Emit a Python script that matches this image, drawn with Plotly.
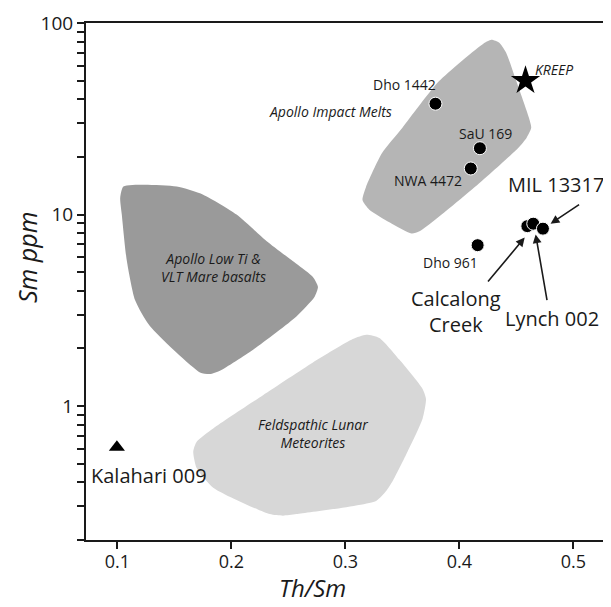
import math
import plotly.graph_objects as go

FONT = "Open Sans"
INK = "#1a1a1a"

# ---- data ----
sample_names = ["Dho 1442", "SaU 169", "NWA 4472", "Dho 961", "Calcalong Creek", "Lynch 002", "MIL 13317"]
sample_thsm = [0.379, 0.418, 0.410, 0.416, 0.4596, 0.4648, 0.4733]
sample_sm = [37.9, 22.2, 17.4, 6.92, 8.7, 8.96, 8.44]

kreep_thsm = [0.458]
kreep_sm = [50.0]

kalahari_thsm = [0.0995]
kalahari_sm = [0.61]

# field outlines (Th/Sm, Sm ppm)
impact_x = [0.428, 0.435, 0.441, 0.450, 0.461, 0.463, 0.459, 0.452, 0.411, 0.365, 0.358, 0.339, 0.321, 0.315, 0.318, 0.332, 0.350, 0.382, 0.421, 0.428]
impact_y = [81.7, 78.9, 70.0, 49.6, 32.0, 28.4, 25.2, 22.4, 13.5, 8.17, 7.97, 9.09, 10.6, 11.9, 13.9, 20.9, 28.4, 49.6, 78.0, 81.7]

mare_x = [0.1052, 0.1227, 0.152, 0.1752, 0.2045, 0.2307, 0.257, 0.2715, 0.2759, 0.273, 0.257, 0.219, 0.1899, 0.1811, 0.1724, 0.1286, 0.1155, 0.1082, 0.1038, 0.1024, 0.1052]
mare_y = [14.0, 14.3, 14.0, 12.7, 10.0, 7.28, 5.53, 4.72, 4.19, 3.72, 2.94, 1.97, 1.53, 1.47, 1.50, 2.61, 3.57, 5.75, 10.0, 12.2, 14.0]

feld_x = [0.3182, 0.3298, 0.3473, 0.3677, 0.3707, 0.3677, 0.3532, 0.3415, 0.3357, 0.3269, 0.257, 0.2452, 0.2336, 0.184, 0.1695, 0.1665, 0.1695, 0.184, 0.2277, 0.2715, 0.3065, 0.3182]
feld_y = [2.36, 2.27, 1.75, 1.23, 1.09, 0.86, 0.557, 0.406, 0.360, 0.320, 0.273, 0.268, 0.273, 0.375, 0.475, 0.579, 0.652, 0.764, 1.14, 1.69, 2.24, 2.36]

x_ticks = [0.1, 0.2, 0.3, 0.4, 0.5]
y_ticks = [1, 10, 100]
y_minor = [0.2, 0.3, 0.4, 0.5, 0.6, 0.7, 0.8, 0.9, 2, 3, 4, 5, 6, 7, 8, 9, 20, 30, 40, 50, 60, 70, 80, 90]

# labels: (text, x, y, size, italic, xanchor)
labels = [
    ("Dho 1442", 0.3517, 47.7, 14, False, "center"),
    ("Apollo Impact Melts", 0.3423, 34.4, 14, True, "right"),
    ("SaU 169", 0.4232, 26.6, 14, False, "center"),
    ("NWA 4472", 0.3727, 15.0, 14, False, "center"),
    ("KREEP", 0.4646, 57.0, 14, True, "left"),
    ("MIL 13317", 0.485, 14.3, 20, False, "center"),
    ("Dho 961", 0.3926, 5.59, 14, False, "center"),
    ("Calcalong<br>Creek", 0.397, 3.11, 20, False, "center"),
    ("Lynch 002", 0.4815, 2.88, 20, False, "center"),
    ("Kalahari 009", 0.1277, 0.434, 20, False, "center"),
    ("Apollo Low Ti &<br>VLT Mare basalts", 0.184, 5.32, 14, True, "center"),
    ("Feldspathic Lunar<br>Meteorites", 0.2715, 0.72, 14, True, "center"),
]

# arrows: (head x, head y, tail x, tail y)
arrows = [
    (0.480, 8.96, 0.5063, 11.4),
    (0.4573, 7.58, 0.424, 4.39),
    (0.4669, 7.88, 0.4771, 3.51),
]

fig = go.Figure()

for xs, ys, col in [(feld_x, feld_y, "#d7d7d7"), (mare_x, mare_y, "#9a9a9a"), (impact_x, impact_y, "#b5b5b5")]:
    fig.add_trace(go.Scatter(x=xs, y=ys, mode="lines", fill="toself", fillcolor=col,
                             line=dict(width=0, color=col, shape="spline", smoothing=0.6),
                             hoverinfo="skip", showlegend=False))

fig.add_trace(go.Scatter(x=sample_thsm, y=sample_sm, mode="markers", text=sample_names,
                         marker=dict(symbol="circle", size=13, color="black",
                                     line=dict(color="white", width=1)),
                         showlegend=False))
fig.add_trace(go.Scatter(x=kreep_thsm, y=kreep_sm, mode="markers",
                         marker=dict(symbol="star", size=22, color="black", line=dict(width=0)),
                         showlegend=False))
fig.add_trace(go.Scatter(x=kalahari_thsm, y=kalahari_sm, mode="markers",
                         marker=dict(symbol="triangle-up", size=14, color="black", line=dict(width=0)),
                         showlegend=False))

for text, x, y, size, italic, xa in labels:
    fig.add_annotation(x=x, y=math.log10(y), text=text, showarrow=False, xanchor=xa, yanchor="middle",
                       font=dict(family=FONT, size=size, color=INK, style="italic" if italic else "normal"))

for hx, hy, tx, ty in arrows:
    fig.add_annotation(x=hx, y=math.log10(hy), ax=tx, ay=math.log10(ty), axref="x", ayref="y",
                       text="", showarrow=True, arrowhead=2, arrowsize=1.1, arrowwidth=1.6,
                       arrowcolor=INK, standoff=0, startstandoff=0)

# axis titles (positions relative to the plot area)
fig.add_annotation(xref="paper", yref="paper", x=(313 - 86) / 523, y=(540 - 607) / 524,
                   text="Th/Sm", showarrow=False, xanchor="center", yanchor="bottom",
                   font=dict(family=FONT, size=24, color=INK, style="italic"))
fig.add_annotation(xref="paper", yref="paper", x=(27 - 86) / 523, y=(540 - 253) / 524,
                   text="Sm ppm", showarrow=False, textangle=-90, xanchor="center", yanchor="middle",
                   font=dict(family=FONT, size=25, color=INK, style="italic"))

fig.update_xaxes(range=[0.0724, 0.5295], tickvals=x_ticks, ticktext=[str(v) for v in x_ticks],
                 ticks="outside", ticklen=7, tickwidth=1.6, tickcolor=INK,
                 showline=True, linewidth=2, linecolor=INK, mirror=True,
                 showgrid=False, zeroline=False, ticklabeloverflow="allow", ticklabelstandoff=-3,
                 tickfont=dict(family=FONT, size=18, color=INK))
fig.update_yaxes(type="log", range=[math.log10(0.2), 2], tickvals=y_ticks, ticktext=[str(v) for v in y_ticks],
                 ticks="outside", ticklen=7, tickwidth=1.6, tickcolor=INK,
                 minor=dict(tickvals=y_minor, ticks="outside", ticklen=7, tickwidth=1.6, tickcolor=INK, showgrid=False),
                 showline=True, linewidth=2, linecolor=INK, mirror=True,
                 showgrid=False, zeroline=False, ticklabeloverflow="allow",
                 tickfont=dict(family=FONT, size=19, color=INK))

# page body adds an 8px offset; size the figure so the plot area lands where the reference has it
fig.update_layout(width=603, height=599, margin=dict(l=78, r=2, t=8, b=67),
                  paper_bgcolor="white", plot_bgcolor="white", showlegend=False)

fig.write_html("out.html")
